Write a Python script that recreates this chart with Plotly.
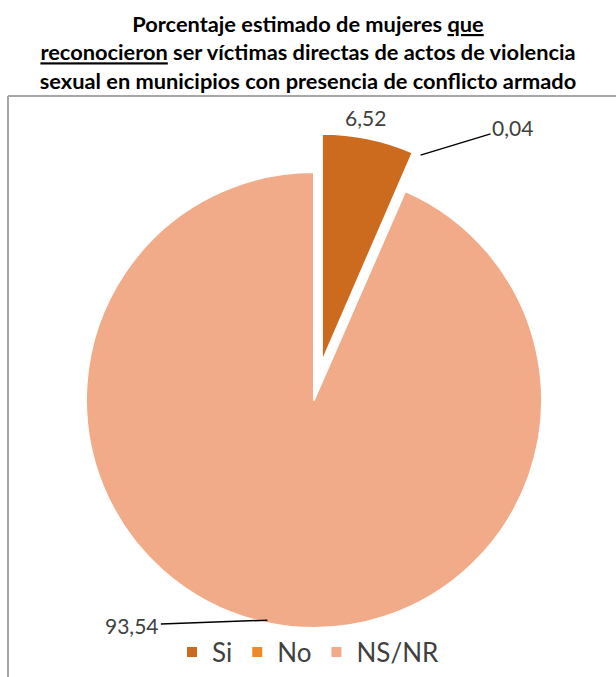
import math
import plotly.graph_objects as go

categories = ["Si", "No", "NS/NR"]
values = [6.52, 0.04, 93.54]
colors = ["#cc6a1e", "#f08a28", "#f1ab89"]
pulls = [0.171, 0.171, 0.0]

W, H = 616, 677
# pie domain (paper)
dom_x = [0.0763, 0.9432]
dom_y = [0.0148, 0.8036]

fig = go.Figure()
fig.add_trace(go.Pie(
    labels=categories, values=values, sort=False, direction="clockwise", rotation=0,
    pull=pulls, marker=dict(colors=colors, line=dict(color="white", width=2)),
    textinfo="none", hoverinfo="label+value", domain=dict(x=dom_x, y=dom_y),
))

# geometry as plotly computes it (margins are 0)
box_w = W * (dom_x[1] - dom_x[0])
box_h = H * (dom_y[1] - dom_y[0])
r = min(box_w, box_h) / (2 + 2 * max(pulls))
cx = W * (dom_x[0] + dom_x[1]) / 2
cy = H * (1 - dom_y[0]) - box_h / 2
total = sum(values)

def point(idx, rad_frac):
    start = sum(values[:idx]) / total * 360
    mid = start + values[idx] / total * 360 / 2
    a = math.radians(mid)
    p = pulls[idx] * r
    x = cx + (p + rad_frac * r) * math.sin(a)
    y = cy - (p + rad_frac * r) * math.cos(a)
    return x, y

def fmt(v):
    return f"{v:.2f}".replace(".", ",")

font = dict(family="Lato, Open Sans, sans-serif", size=21, color="#404040")
ann = []
# Si label (no leader)
x, y = point(0, 1.16)
ann.append(dict(x=(x - 10) / W, y=1 - y / H, xref="paper", yref="paper", text=fmt(values[0]),
                showarrow=False, font=font))
# No label with leader
x, y = point(1, 1.0)
ann.append(dict(x=x / W, y=1 - y / H, xref="paper", yref="paper", text=fmt(values[1]),
                showarrow=True, arrowhead=0, arrowwidth=1.5, arrowcolor="#000000",
                ax=92, ay=-28, standoff=0, font=font))
# NS/NR label with leader
x, y = point(2, 1.0)
ann.append(dict(x=x / W, y=1 - (y - 3) / H, xref="paper", yref="paper", text=fmt(values[2]),
                showarrow=True, arrowhead=0, arrowwidth=1.5, arrowcolor="#000000",
                ax=-135, ay=5, standoff=0, font=font))

fig.update_layout(
    width=W, height=H, margin=dict(l=0, r=0, t=0, b=0),
    paper_bgcolor="white", plot_bgcolor="white",
    separators=",.",
    title=dict(
        text="<b>Porcentaje estimado de mujeres <u>que</u><br><u>reconocieron</u> ser víctimas directas de actos de violencia<br>sexual en municipios con presencia de conflicto armado</b>",
        x=0.5, xanchor="center", y=1 - 32 / H, yanchor="middle",
        font=dict(family="Lato, sans-serif", size=21.8, color="#000000"),
    ),
    legend=dict(orientation="h", x=0.5, xanchor="center", y=1 - 652 / H, yanchor="middle",
                font=dict(family="Lato, sans-serif", size=26, color="#404040"),
                itemsizing="constant", bgcolor="rgba(0,0,0,0)"),
    annotations=ann,
    shapes=[
        dict(type="line", xref="paper", yref="paper", x0=8 / W, x1=1.01, y0=1 - 96 / H, y1=1 - 96 / H,
             line=dict(color="#a6a6a6", width=2)),
        dict(type="line", xref="paper", yref="paper", x0=8 / W, x1=8 / W, y0=1 - 96 / H, y1=-0.01,
             line=dict(color="#a6a6a6", width=2)),
    ],
)

fig.write_html("out.html")
